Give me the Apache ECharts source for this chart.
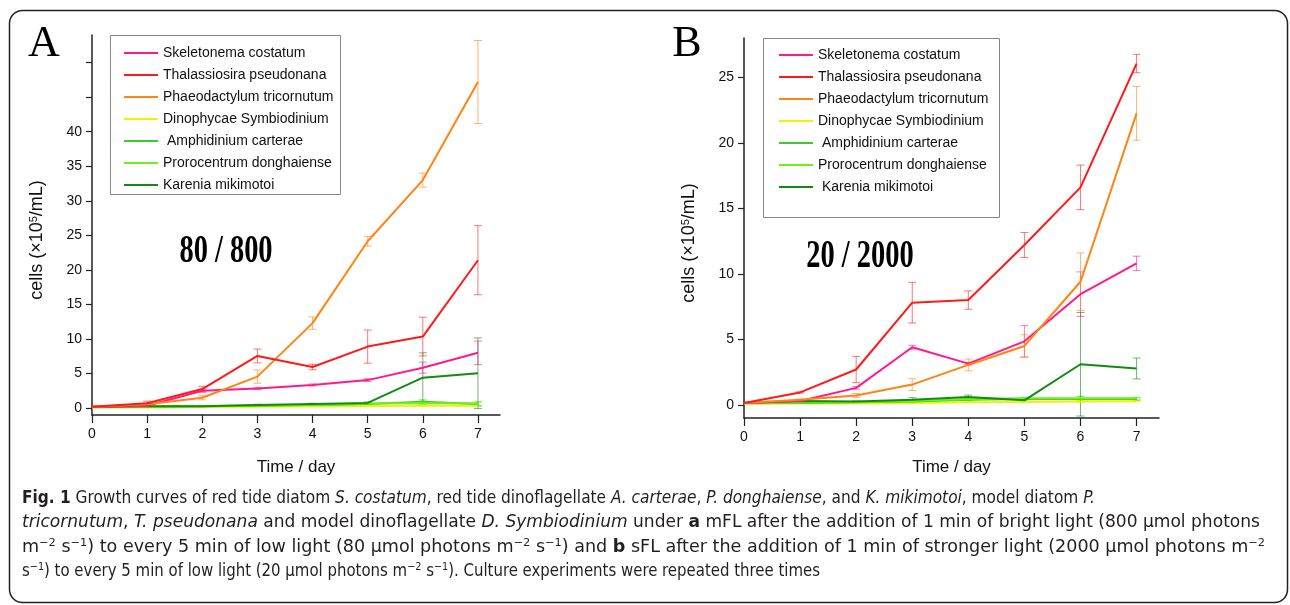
<!DOCTYPE html>
<html>
<head>
<meta charset="utf-8">
<script src="https://cdn.jsdelivr.net/npm/echarts@6/dist/echarts.min.js"></script>
<style>
html,body{margin:0;padding:0;background:#fff;}
#main{position:absolute;left:0;top:0;width:1290px;height:605px;}
#cap{position:absolute;left:22px;top:485px;font-family:'DejaVu Sans Condensed','Liberation Sans',sans-serif;font-size:17px;line-height:24.3px;color:#231f20;white-space:nowrap;}
#cap .ln{display:block;transform-origin:0 50%;width:max-content;}
#cap sup{font-size:11px;line-height:0;vertical-align:6px;}
</style>
</head>
<body>
<div id="main"></div>
<div id="cap">
<span class="ln"><b>Fig. 1</b> Growth curves of red tide diatom <i>S. costatum</i>, red tide dinoflagellate <i>A. carterae</i>, <i>P. donghaiense</i>, and <i>K. mikimotoi</i>, model diatom <i>P.</i></span>
<span class="ln"><i>tricornutum</i>, <i>T. pseudonana</i> and model dinoflagellate <i>D. Symbiodinium</i> under <b>a</b> mFL after the addition of 1 min of bright light (800 μmol photons</span>
<span class="ln">m<sup>−2</sup> s<sup>−1</sup>) to every 5 min of low light (80 μmol photons m<sup>−2</sup> s<sup>−1</sup>) and <b>b</b> sFL after the addition of 1 min of stronger light (2000 μmol photons m<sup>−2</sup></span>
<span class="ln">s<sup>−1</sup>) to every 5 min of low light (20 μmol photons m<sup>−2</sup> s<sup>−1</sup>). Culture experiments were repeated three times</span>
</div>
<script>
var days=[0,1,2,3,4,5,6,7];
var names=['Skeletonema costatum','Thalassiosira pseudonana','Phaeodactylum tricornutum','Dinophycae Symbiodinium',' Amphidinium carterae','Prorocentrum donghaiense','Karenia mikimotoi'];
var namesB=['Skeletonema costatum','Thalassiosira pseudonana','Phaeodactylum tricornutum','Dinophycae Symbiodinium',' Amphidinium carterae','Prorocentrum donghaiense',' Karenia mikimotoi'];
var colors=['#ff1a8c','#ff1a1a','#ff8412','#f2f200','#3ccc2a','#6cf01e','#138a13'];

// 80 / 800 (panel A)
var skelA=[0.15,0.35,2.5,2.85,3.35,4.05,5.85,8.0];
var thalA=[0.2,0.7,2.75,7.55,5.95,8.9,10.35,21.4];
var phaeA=[0.2,0.55,1.5,4.55,12.3,24.15,33.0,47.2];
var dinoA=[0.1,0.1,0.15,0.2,0.25,0.3,0.35,0.35];
var amphA=[0.15,0.2,0.25,0.35,0.45,0.6,0.9,0.6];
var proroA=[0.15,0.2,0.25,0.4,0.5,0.65,0.75,0.65];
var karA=[0.2,0.25,0.25,0.45,0.6,0.75,4.4,5.05];
var skelErrA=[0,0.1,0.2,0.15,0.15,0.2,0.8,1.7];
var thalErrA=[0,0.3,0.4,1.0,0.4,2.4,2.8,5.0];
var phaeErrA=[0,0.2,0.3,0.95,0.9,0.7,1.0,6.0];
var dinoErrA=[0,0,0,0,0,0,0.05,0.05];
var amphErrA=[0,0.05,0.05,0.1,0.1,0.15,0.3,0.3];
var proroErrA=[0,0.05,0.05,0.1,0.1,0.15,0.25,0.25];
var karErrA=[0,0.05,0.05,0.1,0.1,0.15,3.6,5.1];

// 20 / 2000 (panel B)
var skelB=[0.15,0.3,1.3,4.4,3.15,4.85,8.45,10.8];
var thalB=[0.15,0.95,2.7,7.8,8.0,12.2,16.6,26.05];
var phaeB=[0.15,0.4,0.72,1.55,3.05,4.5,9.4,22.25];
var dinoB=[0.1,0.1,0.12,0.15,0.2,0.22,0.25,0.28];
var amphB=[0.12,0.15,0.2,0.25,0.4,0.45,0.45,0.45];
var proroB=[0.12,0.18,0.22,0.3,0.45,0.5,0.5,0.5];
var karB=[0.15,0.3,0.25,0.4,0.6,0.35,3.1,2.78];
var skelErrB=[0,0.05,0.1,0.15,0.1,1.2,1.7,0.55];
var thalErrB=[0,0.05,1.0,1.55,0.7,0.95,1.7,0.7];
var phaeErrB=[0,0.05,0.15,0.45,0.45,0.85,2.2,2.05];
var dinoErrB=[0,0,0,0,0,0,0.05,0.05];
var amphErrB=[0,0.05,0.05,0.1,0.1,0.1,0.2,0.1];
var proroErrB=[0,0.05,0.05,0.1,0.1,0.1,0.15,0.1];
var karErrB=[0,0.05,0.05,0.15,0.15,0.1,3.95,0.8];

var xTicks=[0,1,2,3,4,5,6,7];
var yTicksA=[0,5,10,15,20,25,30,35,40,45,50];
var yLabelsA=[0,5,10,15,20,25,30,35,40];
var yTicksB=[0,5,10,15,20,25];

var valsA=[skelA,thalA,phaeA,dinoA,amphA,proroA,karA];
var errsA=[skelErrA,thalErrA,phaeErrA,dinoErrA,amphErrA,proroErrA,karErrA];
var valsB=[skelB,thalB,phaeB,dinoB,amphB,proroB,karB];
var errsB=[skelErrB,thalErrB,phaeErrB,dinoErrB,amphErrB,proroErrB,karErrB];
var drawOrder=[3,4,5,6,0,2,1];
var capEnds=[1095,1260,1265,820];//right end of each caption line

var FONT="'Liberation Sans',Arial,sans-serif";
var SERIF="'Liberation Serif','Times New Roman',serif";

function fade(hex,a){
	var r=parseInt(hex.substr(1,2),16),g=parseInt(hex.substr(3,2),16),b=parseInt(hex.substr(5,2),16);
	return 'rgba('+r+','+g+','+b+','+a+')';
}
function errRender(params,api){
	var e=api.value(2);
	if(!(e>0))return;
	var x=api.value(0),y=api.value(1);
	var top=api.coord([x,y+e]),bot=api.coord([x,y-e]);
	var st={stroke:api.visual('color'),lineWidth:1};
	return {type:'group',children:[
		{type:'line',shape:{x1:top[0],y1:top[1],x2:bot[0],y2:bot[1]},style:st},
		{type:'line',shape:{x1:top[0]-4,y1:top[1],x2:top[0]+4,y2:top[1]},style:st},
		{type:'line',shape:{x1:bot[0]-4,y1:bot[1],x2:bot[0]+4,y2:bot[1]},style:st}
	]};
}
function buildSeries(vals,errs,nm,idx){
	var out=[];
	drawOrder.forEach(function(k){
		var ed=[];
		for(var i=0;i<days.length;i++)ed.push([days[i],vals[k][i],errs[k][i]]);
		out.push({type:'custom',name:'err'+idx+k,xAxisIndex:idx,yAxisIndex:idx,renderItem:errRender,
			itemStyle:{color:fade(colors[k],0.6)},data:ed,z:2,silent:true});
	});
	drawOrder.forEach(function(k){
		var d=[];
		for(var i=0;i<days.length;i++)d.push([days[i],vals[k][i]]);
		out.push({type:'line',name:nm[k],xAxisIndex:idx,yAxisIndex:idx,data:d,symbol:'none',
			lineStyle:{width:2,color:colors[k]},itemStyle:{color:colors[k]},z:3,silent:true});
	});
	return out;
}
function xAx(idx){
	return {type:'value',gridIndex:idx,min:0,max:7.4,name:'Time / day',nameLocation:'middle',nameGap:idx?41:44,
		nameTextStyle:{fontFamily:FONT,fontSize:17,color:'#111'},
		axisLine:{onZero:false,lineStyle:{color:'#222',width:1.5}},
		axisTick:{customValues:xTicks,length:8,lineStyle:{color:'#222',width:1.2}},
		axisLabel:{customValues:xTicks,fontFamily:FONT,fontSize:14,color:'#111',margin:12},
		splitLine:{show:false}};
}
function yAx(idx,max,ticks,labels){
	return {type:'value',gridIndex:idx,min:-1,max:max,name:'cells (×10{s|5}/mL)',nameLocation:'middle',nameGap:46,
		nameTextStyle:{fontFamily:FONT,fontSize:18,color:'#111',padding:[0,30,0,0],
			rich:{s:{fontFamily:FONT,fontSize:11,verticalAlign:'top',color:'#111'}}},
		axisLine:{onZero:false,lineStyle:{color:'#222',width:1.5}},
		axisTick:{customValues:ticks,length:6,lineStyle:{color:'#222',width:1.2}},
		axisLabel:{customValues:labels,fontFamily:FONT,fontSize:14,color:'#111',margin:10},
		splitLine:{show:false}};
}
function legendAt(left,top,nm){
	return {orient:'vertical',left:left,top:top,data:nm,selectedMode:false,icon:'rect',itemWidth:34,itemHeight:2,itemGap:6,
		padding:0,textStyle:{fontFamily:FONT,fontSize:14,color:'#111',lineHeight:16}};
}

var myChart=echarts.init(document.getElementById('main'),null,{renderer:'canvas'});
var option={
	animation:false,
	grid:[{left:92,top:35,width:408,height:380},{left:744,top:38,width:415,height:380}],
	xAxis:[xAx(0),xAx(1)],
	yAxis:[yAx(0,54,yTicksA,yLabelsA),yAx(1,28,yTicksB,yTicksB)],
	legend:[legendAt(124,45,names),legendAt(779,47,namesB)],
	series:buildSeries(valsA,errsA,names,0).concat(buildSeries(valsB,errsB,namesB,1)),
	graphic:[
		{type:'rect',shape:{x:9.5,y:10.5,width:1278,height:592,r:13},style:{fill:'none',stroke:'#222',lineWidth:1.5},z:-1},
		{type:'rect',shape:{x:110.5,y:35.5,width:230,height:159},style:{fill:'none',stroke:'#888',lineWidth:1},z:1},
		{type:'rect',shape:{x:763.5,y:38.5,width:236,height:179},style:{fill:'none',stroke:'#888',lineWidth:1},z:1},
		{type:'text',x:44,y:44,style:{text:'A',font:'44px '+SERIF,fill:'#000',textAlign:'center',textVerticalAlign:'middle'}},
		{type:'text',x:687,y:44,style:{text:'B',font:'44px '+SERIF,fill:'#000',textAlign:'center',textVerticalAlign:'middle'}},
		{type:'text',x:226,y:252,scaleX:0.71,style:{text:'80 / 800',font:'bold 40px '+SERIF,fill:'#000',textAlign:'center',textVerticalAlign:'middle'}},
		{type:'text',x:860,y:257,scaleX:0.71,style:{text:'20 / 2000',font:'bold 40px '+SERIF,fill:'#000',textAlign:'center',textVerticalAlign:'middle'}}
	]
};
myChart.setOption(option);

//把图注每行拉伸到原图宽度
var lines=document.querySelectorAll('#cap .ln');
for(var i=0;i<lines.length;i++){
	var w=lines[i].getBoundingClientRect().width;
	lines[i].style.transform='scaleX('+((capEnds[i]-22)/w)+')';
}
</script>
</body>
</html>
